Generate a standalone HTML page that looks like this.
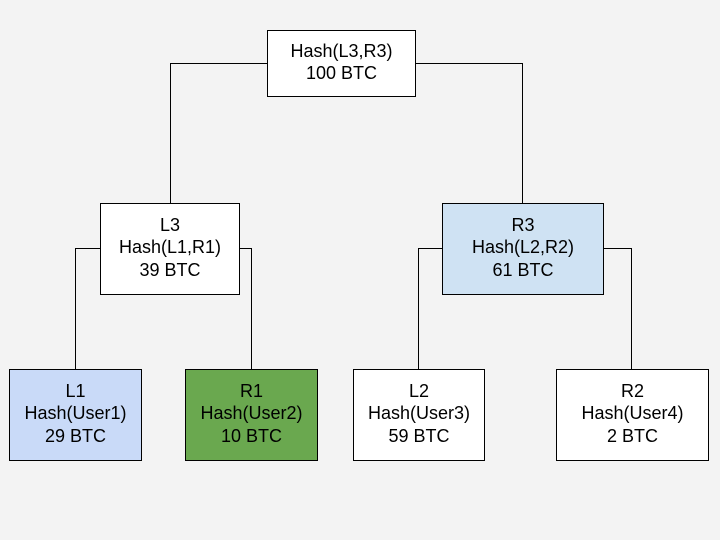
<!DOCTYPE html>
<html><head><style>
body{margin:0;width:720px;height:540px;background:#f3f3f3;position:relative;overflow:hidden;font-family:"Liberation Sans",Arial,sans-serif;}
.b{position:absolute;box-sizing:border-box;border:1px solid #000;background:#fff;display:flex;flex-direction:column;justify-content:center;align-items:center;text-align:center;font-size:18px;line-height:22.5px;color:#000;padding-bottom:3px;}
svg{position:absolute;left:0;top:0}
</style></head><body>
<svg width="720" height="540"><g stroke="#000" stroke-width="1" fill="none">
<polyline points="267,63.5 170.5,63.5 170.5,203"/>
<polyline points="415,63.5 522.5,63.5 522.5,203"/>
<polyline points="100,248.5 75.5,248.5 75.5,369"/>
<polyline points="239,248.5 251.5,248.5 251.5,369"/>
<polyline points="442,248.5 418.5,248.5 418.5,369"/>
<polyline points="603,248.5 631.5,248.5 631.5,369"/>
</g></svg>
<div class="b" style="left:267px;top:30px;width:149px;height:67px"><div>Hash(L3,R3)<br>100 BTC</div></div>
<div class="b" style="left:100px;top:203px;width:140px;height:92px"><div>L3<br>Hash(L1,R1)<br>39 BTC</div></div>
<div class="b" style="left:442px;top:203px;width:162px;height:92px;background:#cfe2f3"><div>R3<br>Hash(L2,R2)<br>61 BTC</div></div>
<div class="b" style="left:9px;top:369px;width:133px;height:92px;background:#c9daf8"><div>L1<br>Hash(User1)<br>29 BTC</div></div>
<div class="b" style="left:185px;top:369px;width:133px;height:92px;background:#6aa84f"><div>R1<br>Hash(User2)<br>10 BTC</div></div>
<div class="b" style="left:353px;top:369px;width:132px;height:92px"><div>L2<br>Hash(User3)<br>59 BTC</div></div>
<div class="b" style="left:556px;top:369px;width:153px;height:92px"><div>R2<br>Hash(User4)<br>2 BTC</div></div>
</body></html>
